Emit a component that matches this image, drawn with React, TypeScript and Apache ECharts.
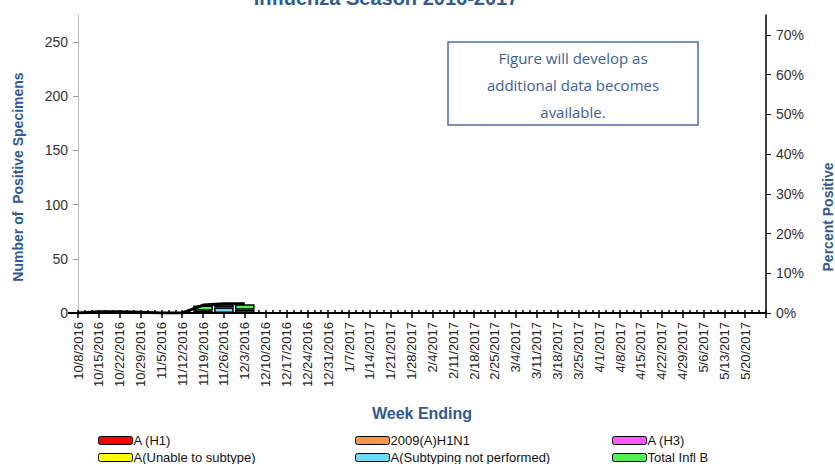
import React, { useEffect, useRef } from "react";
import * as echarts from "echarts";

const weeks = [
  "10/8/2016", "10/15/2016", "10/22/2016", "10/29/2016", "11/5/2016", "11/12/2016",
  "11/19/2016", "11/26/2016", "12/3/2016", "12/10/2016", "12/17/2016", "12/24/2016",
  "12/31/2016", "1/7/2017", "1/14/2017", "1/21/2017", "1/28/2017", "2/4/2017",
  "2/11/2017", "2/18/2017", "2/25/2017", "3/4/2017", "3/11/2017", "3/18/2017",
  "3/25/2017", "4/1/2017", "4/8/2017", "4/15/2017", "4/22/2017", "4/29/2017",
  "5/6/2017", "5/13/2017", "5/20/2017", "",
];

const aH1: (number | null)[] = [0, 0, 0, 0, 0, 0, 0, 0, 0];
const a2009H1N1: (number | null)[] = [0, 0, 0, 0, 0, 0, 0, 0, 0];
const aH3: (number | null)[] = [0, 0, 0, 0, 0, 0, 0, 0, 0];
const aUnable: (number | null)[] = [0, 0, 0, 0, 0, 0, 0, 0, 0];
const aNotPerformed: (number | null)[] = [0, 0, 0, 0, 0, 0, 2, 5, 3];
const totalB: (number | null)[] = [0, 0, 0, 0, 0, 0, 5, 3, 5];
const percentPositive: (number | null)[] = [0, 0.3, 0.3, 0.2, 0, 0, 2.0, 2.3, 2.3];

const leftTicks = [0, 50, 100, 150, 200, 250];
const rightTicks = [0, 10, 20, 30, 40, 50, 60, 70];

const barSeries = [
  { name: "A (H1)", data: aH1, color: "#ff0000" },
  { name: "2009(A)H1N1", data: a2009H1N1, color: "#f79646" },
  { name: "A (H3)", data: aH3, color: "#ff55ff" },
  { name: "A(Unable to subtype)", data: aUnable, color: "#ffff00" },
  { name: "A(Subtyping not performed)", data: aNotPerformed, color: "#6fd8f2" },
  { name: "Total Infl B", data: totalB, color: "#55ee55" },
];

const minorCats = Array.from({ length: (weeks.length - 1) * 3 + 1 }, (_, i) => String(i));

export default function App() {
  const ref = useRef<HTMLDivElement>(null);
  useEffect(() => {
    if (!ref.current) return;
    const chart = echarts.init(ref.current, null, { renderer: "svg" });
    const blue = "#2f5a94";
    const legendCols = [
      { left: 98, names: [barSeries[0].name, barSeries[3].name] },
      { left: 355, names: [barSeries[1].name, barSeries[4].name] },
      { left: 612, names: [barSeries[2].name, barSeries[5].name] },
    ];
    chart.setOption({
      animation: false,
      textStyle: { fontFamily: "Liberation Sans" },
      grid: { left: 78, right: 69, top: 15, bottom: 151, outerBoundsMode: "none", containLabel: false },
      legend: legendCols.map((c) => ({
        data: c.names,
        orient: "vertical",
        left: c.left,
        top: 434,
        height: 40,
        itemWidth: 34,
        itemHeight: 8,
        itemGap: 4,
        padding: 0,
        selectedMode: false,
        textStyle: { fontSize: 13, color: "#111", fontFamily: "Liberation Sans", padding: [0, 0, 0, -4] },
        itemStyle: { borderColor: "#000", borderWidth: 1 },
      })),
      xAxis: [
        {
          type: "category",
          data: weeks,
          boundaryGap: false,
          axisLine: { lineStyle: { color: "#000", width: 2 } },
          axisTick: { show: true, length: 5, interval: 0, lineStyle: { color: "#000", width: 1.5 } },
          axisLabel: { rotate: 90, interval: 0, fontSize: 13, color: "#222", margin: 9 },
          name: "Week Ending",
          nameLocation: "middle",
          nameGap: 92,
          nameTextStyle: { fontSize: 16, fontWeight: "bold", color: blue },
        },
        {
          type: "category",
          data: minorCats,
          boundaryGap: false,
          position: "bottom",
          axisLine: { show: false },
          axisTick: { show: true, inside: true, length: 3, interval: 0, lineStyle: { color: "#000", width: 1.5 } },
          axisLabel: { show: false },
        },
      ],
      yAxis: [
        {
          type: "value",
          min: 0,
          max: 275,
          interval: 25,
          splitLine: { show: false },
          axisLine: { show: true, lineStyle: { color: "#bbb", width: 1 } },
          axisTick: { show: true, length: 5, customValues: leftTicks, lineStyle: { color: "#999" } },
          axisLabel: { fontSize: 14, color: "#333", margin: 10, customValues: leftTicks },
        },
        {
          type: "value",
          min: 0,
          max: 75,
          interval: 5,
          position: "right",
          splitLine: { show: false },
          axisLine: { show: true, lineStyle: { color: "#000", width: 1.5 } },
          axisTick: { show: true, length: 5, customValues: rightTicks, lineStyle: { color: "#000" } },
          axisLabel: { fontSize: 14, color: "#333", margin: 10, customValues: rightTicks, formatter: "{value}%" },
        },
      ],
      series: [
        ...barSeries.map((s) => ({
          name: s.name,
          type: "bar",
          stack: "total",
          data: s.data,
          barWidth: "94%",
          itemStyle: { color: s.color, borderColor: "#000", borderWidth: 1.5 },
        })),
        {
          name: "Percent Positive",
          type: "line",
          yAxisIndex: 1,
          data: percentPositive,
          showSymbol: false,
          symbol: "none",
          lineStyle: { color: "#000", width: 3 },
          z: 5,
        },
      ],
      graphic: [
        {
          type: "text",
          x: 386,
          y: -12,
          style: {
            text: "Influenza Season 2016-2017",
            align: "center",
            fontSize: 20,
            fontWeight: "bold",
            fill: blue,
            fontFamily: "Liberation Sans",
          },
        },
        {
          type: "text",
          x: 18,
          y: 177,
          rotation: Math.PI / 2,
          style: {
            text: "Number of  Positive Specimens",
            align: "center",
            verticalAlign: "middle",
            fontSize: 14,
            fontWeight: "bold",
            fill: blue,
            fontFamily: "Liberation Sans",
          },
        },
        {
          type: "text",
          x: 828,
          y: 217,
          rotation: Math.PI / 2,
          style: {
            text: "Percent Positive",
            align: "center",
            verticalAlign: "middle",
            fontSize: 14,
            fontWeight: "bold",
            fill: blue,
            fontFamily: "Liberation Sans",
          },
        },
        {
          type: "rect",
          shape: { x: 448, y: 42, width: 250, height: 83 },
          style: { fill: "#fff", stroke: "#4a6fa5", lineWidth: 1.5 },
        },
        {
          type: "text",
          x: 573,
          y: 44,
          style: {
            text: "Figure will develop as\nadditional data becomes\navailable.",
            align: "center",
            fontSize: 15,
            lineHeight: 27,
            fill: "#3d6196",
            fontFamily: "Open Sans",
          },
        },
      ],
    });
    return () => chart.dispose();
  }, []);
  return <div ref={ref} style={{ width: 835, height: 464, position: "absolute", left: 0, top: 0 }} />;
}
